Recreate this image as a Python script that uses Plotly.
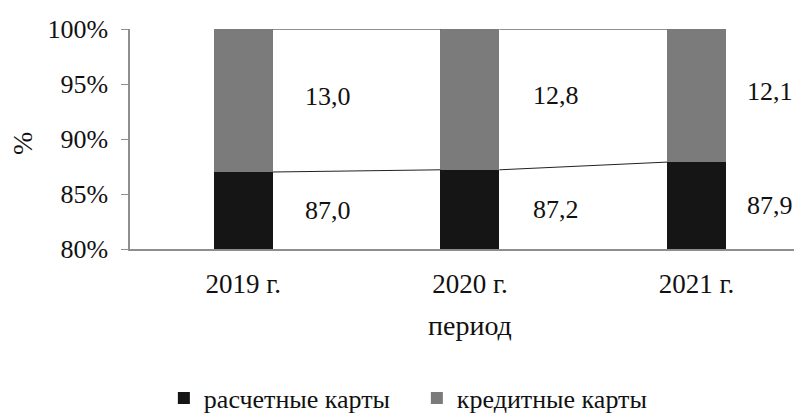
import plotly.graph_objects as go

years = ["2019 г.", "2020 г.", "2021 г."]
settlement = [87.0, 87.2, 87.9]   # расчетные карты
credit = [13.0, 12.8, 12.1]       # кредитные карты
series_names = ["расчетные карты", "кредитные карты"]
y_ticks = [80, 85, 90, 95, 100]
y_tick_labels = ["80%", "85%", "90%", "95%", "100%"]

FONT = "Liberation Serif, Times New Roman, Times, serif"
BLACK = "#151515"
GRAY = "#7b7b7b"
AXIS = "#8e8e8e"
TXT = "#111111"
BAR_W = 0.26

xs = list(range(len(years)))
fig = go.Figure()
fig.add_trace(go.Bar(x=xs, y=settlement, name=series_names[0], marker_color=BLACK,
                     width=BAR_W, marker_line_width=0))
fig.add_trace(go.Bar(x=xs, y=credit, name=series_names[1], marker_color=GRAY,
                     width=BAR_W, marker_line_width=0))

tops_black = settlement
tops_all = [a + b for a, b in zip(settlement, credit)]
for tops in (tops_black, tops_all):
    for i in range(len(xs) - 1):
        fig.add_trace(go.Scatter(x=[xs[i] + BAR_W / 2, xs[i + 1] - BAR_W / 2],
                                 y=[tops[i], tops[i + 1]], mode="lines",
                                 line=dict(color="#222222", width=1),
                                 showlegend=False, hoverinfo="skip"))

def fmt(v):
    return f"{v:.1f}".replace(".", ",")

shifts = [85, 86, 73]
for i in xs:
    fig.add_annotation(x=xs[i], y=(80 + settlement[i]) / 2, text=fmt(settlement[i]),
                       showarrow=False, xshift=shifts[i], xanchor="center", yanchor="middle",
                       font=dict(family=FONT, size=26, color=TXT))
    fig.add_annotation(x=xs[i], y=(settlement[i] + tops_all[i]) / 2, text=fmt(credit[i]),
                       showarrow=False, xshift=shifts[i], yshift=4,
                       xanchor="center", yanchor="middle",
                       font=dict(family=FONT, size=26, color=TXT))

fig.add_annotation(xref="paper", yref="paper", x=(22 - 130) / 664, y=(249 - 144) / 220,
                   text="%", textangle=-90, showarrow=False,
                   xanchor="center", yanchor="middle",
                   font=dict(family=FONT, size=28, color=TXT))
fig.add_annotation(x=1, yref="paper", y=(249 - 325) / 220, text="период",
                   showarrow=False, xanchor="center", yanchor="middle",
                   font=dict(family=FONT, size=28, color=TXT))

fig.update_layout(
    barmode="stack",
    width=794, height=417,
    margin=dict(l=130, r=0, t=29, b=168, autoexpand=False),
    paper_bgcolor="white", plot_bgcolor="white",
    font=dict(family=FONT, size=24, color=TXT),
    showlegend=True,
    legend=dict(orientation="h", x=0.051, y=(249 - 398) / 220, yanchor="middle", xanchor="left",
                font=dict(family=FONT, size=26, color=TXT),
                itemwidth=30, entrywidth=208, traceorder="normal"),
    xaxis=dict(range=[-0.5, 2.43], tickvals=xs, ticktext=years, showgrid=False,
               showline=True, linecolor=AXIS, linewidth=1.5, ticks="",
               tickfont=dict(family=FONT, size=27, color=TXT), zeroline=False,
               ticklabelstandoff=10),
    yaxis=dict(range=[80, 100], tickvals=y_ticks, ticktext=y_tick_labels, showgrid=False,
               showline=True, linecolor=AXIS, linewidth=1.5, ticks="outside",
               ticklen=7, tickcolor=AXIS, tickfont=dict(family=FONT, size=26, color=TXT),
               zeroline=False, ticklabelstandoff=8),
)

fig.write_html("out.html")
